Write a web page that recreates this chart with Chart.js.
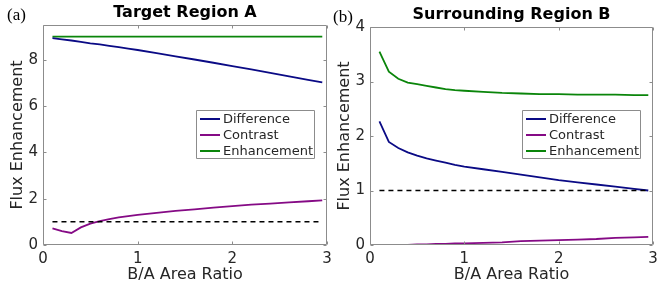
<!DOCTYPE html>
<html>
<head>
<meta charset="utf-8">
<script src="https://cdn.jsdelivr.net/npm/chart.js@4/dist/chart.umd.min.js"></script>
<style>
  html, body { margin: 0; padding: 0; background: #fff; overflow: hidden; }
  #wrap { position: relative; width: 657px; height: 286px; }
  canvas { position: absolute; top: 0; }
  #chartA { left: 0; }
  #chartB { left: 328px; }
</style>
</head>
<body>
<div id="wrap">
  <canvas id="chartA" width="345" height="286"></canvas>
  <canvas id="chartB" width="340" height="286"></canvas>
</div>
<script>
  // B/A area ratio sample points
  const ratioX = [0.1, 0.2, 0.3, 0.4, 0.5, 0.6, 0.7, 0.8, 0.9, 1.0,
                  1.2, 1.4, 1.6, 1.8, 2.0, 2.2, 2.4, 2.6, 2.8, 2.95];

  // (a) Target Region A
  const aDifference  = [8.93, 8.88, 8.83, 8.77, 8.71, 8.66, 8.60, 8.54, 8.48, 8.42,
                        8.29, 8.15, 8.01, 7.87, 7.72, 7.58, 7.43, 7.28, 7.13, 7.02];
  const aContrast    = [0.72, 0.60, 0.52, 0.76, 0.92, 1.03, 1.12, 1.19, 1.25, 1.30,
                        1.39, 1.47, 1.54, 1.61, 1.68, 1.74, 1.79, 1.84, 1.89, 1.93];
  const aEnhancement = [9.0, 9.0, 9.0, 9.0, 9.0, 9.0, 9.0, 9.0, 9.0, 9.0,
                        9.0, 9.0, 9.0, 9.0, 9.0, 9.0, 9.0, 9.0, 9.0, 9.0];

  // (b) Surrounding Region B
  const bDifference  = [2.27, 1.89, 1.78, 1.70, 1.64, 1.59, 1.55, 1.51, 1.47, 1.44,
                        1.39, 1.34, 1.29, 1.24, 1.19, 1.15, 1.11, 1.07, 1.03, 1.00];
  const bContrast    = [0.00, 0.00, 0.00, 0.00, 0.01, 0.01, 0.02, 0.02, 0.03, 0.03,
                        0.04, 0.05, 0.07, 0.08, 0.09, 0.10, 0.11, 0.13, 0.14, 0.15];
  const bEnhancement = [3.55, 3.18, 3.05, 2.98, 2.95, 2.92, 2.89, 2.86, 2.84, 2.83,
                        2.81, 2.79, 2.78, 2.77, 2.77, 2.76, 2.76, 2.76, 2.75, 2.75];

  // dashed reference line at 1
  const refX = [0.1, 2.95];
  const refY = [1, 1];

  const xTicks  = [0, 1, 2, 3];
  const aYTicks = [0, 2, 4, 6, 8];
  const bYTicks = [0, 1, 2, 3, 4];

  const seriesNames  = ["Difference", "Contrast", "Enhancement"];
  const seriesColors = ["#0a0a85", "#850a85", "#0a850a"];

  const FONT = "'DejaVu Sans', sans-serif";
  const TEXT = "#262626";
  const FRAME = "#8c8c8c";

  const pts = (xs, ys) => xs.map((x, i) => ({ x: x, y: ys[i] }));

  // box, inward ticks, legend box and panel tag, matlab style
  function panelPlugin(tag, tagX, tagY, legendX, legendY) {
    return {
      id: "panelDecor",
      afterDraw(chart) {
        const { ctx, chartArea: a, scales } = chart;
        const L = Math.round(a.left) + 0.5, R = Math.round(a.right) - 0.5;
        const T = Math.round(a.top) + 0.5, B = Math.round(a.bottom) - 0.5;
        ctx.save();
        ctx.setLineDash([]);
        ctx.globalAlpha = 1;
        ctx.strokeStyle = FRAME;
        ctx.lineWidth = 1;
        ctx.beginPath();
        ctx.moveTo(L, T); ctx.lineTo(R, T); ctx.lineTo(R, B); ctx.lineTo(L, B); ctx.closePath();
        scales.x.ticks.forEach(t => {
          const px = Math.round(scales.x.getPixelForValue(t.value)) + 0.5;
          ctx.moveTo(px, B); ctx.lineTo(px, B - 3);
          ctx.moveTo(px, T); ctx.lineTo(px, T + 3);
        });
        scales.y.ticks.forEach(t => {
          const py = Math.round(scales.y.getPixelForValue(t.value)) + 0.5;
          ctx.moveTo(L, py); ctx.lineTo(L + 3, py);
          ctx.moveTo(R, py); ctx.lineTo(R - 3, py);
        });
        ctx.stroke();

        // legend
        const w = 118, h = 48;
        ctx.fillStyle = "#fff";
        ctx.fillRect(legendX, legendY, w, h);
        ctx.beginPath();
        ctx.rect(legendX + 0.5, legendY + 0.5, w, h);
        ctx.strokeStyle = FRAME;
        ctx.stroke();
        ctx.font = "13px " + FONT;
        ctx.textBaseline = "middle";
        ctx.textAlign = "left";
        seriesNames.forEach((name, i) => {
          const y = legendY + 9 + i * 16;
          ctx.strokeStyle = seriesColors[i];
          ctx.lineWidth = 2;
          ctx.beginPath();
          ctx.moveTo(legendX + 4, y); ctx.lineTo(legendX + 24, y);
          ctx.stroke();
          ctx.fillStyle = TEXT;
          ctx.fillText(name, legendX + 27, y + 0.5);
        });

        // panel tag
        ctx.fillStyle = "#000";
        ctx.font = "17px 'Liberation Serif', serif";
        ctx.fillText(tag, tagX, tagY);
        ctx.restore();
      }
    };
  }

  function makeChart(id, cfg) {
    const lines = [
      { data: pts(refX, refY), borderColor: "#000", borderDash: [5, 4], borderWidth: 1.5 },
      { label: seriesNames[0], data: pts(ratioX, cfg.diff), borderColor: seriesColors[0] },
      { label: seriesNames[1], data: pts(ratioX, cfg.contrast), borderColor: seriesColors[1] },
      { label: seriesNames[2], data: pts(ratioX, cfg.enh), borderColor: seriesColors[2] }
    ];
    lines.forEach(d => {
      d.pointRadius = 0;
      d.fill = false;
      d.tension = 0;
      if (!d.borderWidth) d.borderWidth = 1.8;
    });

    return new Chart(document.getElementById(id), {
      type: "line",
      data: { datasets: lines },
      options: {
        responsive: false,
        animation: false,
        layout: { padding: { left: 0, right: cfg.padRight, top: 0, bottom: 0 } },
        plugins: {
          legend: { display: false },
          tooltip: { enabled: false },
          title: {
            display: true,
            text: cfg.title,
            fullSize: false,
            color: "#000",
            font: { family: FONT, size: 16, weight: "bold" },
            padding: { top: cfg.titleTop, bottom: 2.8 }
          }
        },
        scales: {
          x: {
            type: "linear",
            min: 0,
            max: 3,
            afterBuildTicks: s => { s.ticks = xTicks.map(v => ({ value: v })); },
            afterFit: s => { s.height = 41; },
            grid: { display: false, drawTicks: false },
            border: { display: false },
            ticks: { color: TEXT, font: { family: FONT, size: 15 }, padding: 5, maxRotation: 0 },
            title: {
              display: true,
              text: "B/A Area Ratio",
              color: TEXT,
              font: { family: FONT, size: 16 },
              padding: { top: 0, bottom: 2 }
            }
          },
          y: {
            type: "linear",
            min: 0,
            max: cfg.yMax,
            afterBuildTicks: s => { s.ticks = cfg.yTicks.map(v => ({ value: v })); },
            afterFit: s => { s.width = cfg.yWidth; },
            grid: { display: false, drawTicks: false },
            border: { display: false },
            ticks: { color: TEXT, font: { family: FONT, size: 15 }, padding: 5 },
            title: {
              display: true,
              text: "Flux Enhancement",
              color: TEXT,
              font: { family: FONT, size: 16 },
              padding: { top: cfg.yTitlePad, bottom: 0 }
            }
          }
        }
      },
      plugins: [panelPlugin(cfg.tag, cfg.tagX, cfg.tagY, cfg.legendX, 110)]
    });
  }

  makeChart("chartA", {
    title: "Target Region A", tag: "(a)", tagX: 7, tagY: 16,
    diff: aDifference, contrast: aContrast, enh: aEnhancement,
    yMax: 9.5, yTicks: aYTicks, yWidth: 43, yTitlePad: 8.4,
    titleTop: 3, padRight: 18, legendX: 196
  });

  makeChart("chartB", {
    title: "Surrounding Region B", tag: "(b)", tagX: 5, tagY: 18,
    diff: bDifference, contrast: bContrast, enh: bEnhancement,
    yMax: 4, yTicks: bYTicks, yWidth: 42, yTitlePad: 7.4,
    titleTop: 5, padRight: 15, legendX: 194
  });
</script>
</body>
</html>
